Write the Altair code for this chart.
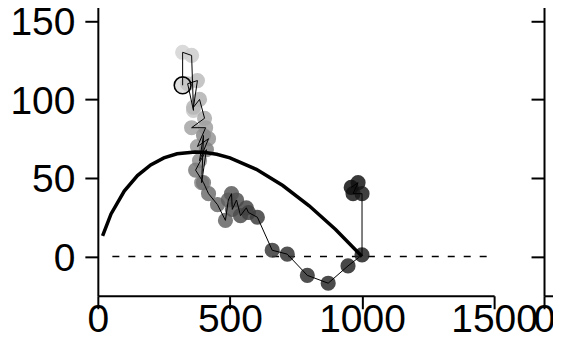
import altair as alt
import pandas as pd

# Observed trajectory (biomass, surplus production), in time order
biomass = [321, 321, 355, 362, 340, 377, 362, 385, 404, 355, 408, 377, 419, 385,
           400, 393, 411, 370, 400, 419, 453, 483, 494, 506, 509, 525, 540, 562,
           570, 604, 660, 717, 793, 872, 947, 1000, 1000, 966, 985, 959]
production = [109, 130, 128, 93, 110, 112, 95, 100, 88, 82, 82, 70, 75, 61,
              77, 47, 68, 55, 47, 40, 33, 23, 36, 40, 30, 36, 26, 31,
              28, 25, 4, 1.5, -12, -17, -6, 1, 40, 40, 47, 44]

# Fitted production curve
curve_biomass = [18, 50, 100, 150, 200, 250, 300, 368, 400, 450, 500, 600, 700, 800, 900, 1000]
curve_production = [13.1, 27.1, 41.7, 51.5, 58.3, 62.8, 65.4, 66.6, 66.4, 65.1, 62.8,
                    55.5, 45.2, 32.3, 17.2, 0]

zero_line_x = [55, 1475]
zero_line_y = [0, 0]
x_ticks = [0, 500, 1000, 1500]
right_x_ticks = [0]
y_ticks = [0, 50, 100, 150]

FONT = "Liberation Sans"

pts = pd.DataFrame({"B": biomass, "P": production, "i": list(range(len(biomass)))})
first = pts.iloc[[0]]
curve = pd.DataFrame({"B": curve_biomass, "P": curve_production})
zero = pd.DataFrame({"B": zero_line_x, "P": zero_line_y})

xscale = alt.Scale(domain=[0, 1500], nice=False, zero=False)
yscale = alt.Scale(domain=[-25, 165], nice=False, zero=False)

common = dict(domainColor="black", domainWidth=2, tickColor="black", tickWidth=2,
              tickSize=13, labelFont=FONT, labelFontSize=39, labelColor="black",
              grid=False)

xaxis = alt.Axis(values=x_ticks, format="d", labelPadding=-8, labelFlush=False,
                 labelOverlap=False, **common)
yaxis = alt.Axis(values=y_ticks, labelPadding=10, labelOffset=2, **common)
yaxis_nolab = alt.Axis(values=y_ticks, labels=False, **common)

X = alt.X("B:Q", scale=xscale, axis=xaxis, title=None)
Y = alt.Y("P:Q", scale=yscale, axis=yaxis, title=None)

W, H = 397, 299

zero_rule = alt.Chart(zero).mark_line(color="black", strokeWidth=1.3,
                                      strokeDash=[7, 9]).encode(x=X, y=Y)

dots = alt.Chart(pts).mark_circle(size=230, opacity=0.85).encode(
    x=X, y=Y,
    color=alt.Color("i:Q", scale=alt.Scale(range=["#d9d9d9", "#111111"]), legend=None),
)

path = alt.Chart(pts).mark_line(color="black", strokeWidth=1).encode(
    x=X, y=Y, order=alt.Order("i:Q"))

fit = alt.Chart(curve).mark_line(color="black", strokeWidth=3.5).encode(x=X, y=Y)

start = alt.Chart(first).mark_point(shape="circle", filled=False, size=283,
                                    color="black", strokeWidth=1.6, opacity=1).encode(x=X, y=Y)

left = alt.layer(zero_rule, dots, path, fit, start).properties(width=W, height=H)

# Right-hand panel: only its left edge is visible in the crop
xscale2 = alt.Scale(domain=[0, 34], nice=False, zero=False)
xaxis2 = alt.Axis(values=right_x_ticks, format="d", labelPadding=-8, labelFlush=False,
                  labelOverlap=False, **common)
X2 = alt.X("B:Q", scale=xscale2, axis=xaxis2, title=None)
Y2 = alt.Y("P:Q", scale=yscale, axis=yaxis_nolab, title=None)
right = alt.Chart(zero).mark_line(color="black", strokeWidth=1.3, clip=True,
                                  strokeDash=[7, 9]).encode(x=X2, y=Y2).properties(width=9, height=H)

chart = alt.hconcat(left, right, spacing=50, bounds="flush").properties(
    padding={"left": 1, "top": -11, "right": -2, "bottom": 0}
).configure(background="white").configure_view(stroke=None)

chart.save("out.html", embed_options={"renderer": "svg", "actions": False})
